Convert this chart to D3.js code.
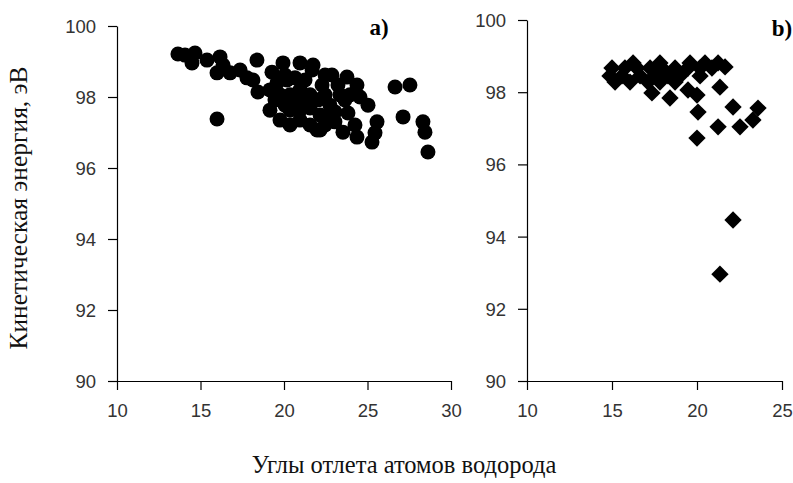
<!DOCTYPE html>
<html>
<head>
<meta charset="utf-8">
<script src="https://cdn.jsdelivr.net/npm/d3@7"></script>
<style>
  body { margin: 0; background: #fff; }
  svg { display: block; }
  .tick text { font-family: "Liberation Sans", Arial, sans-serif; font-size: 18.5px; fill: #333; }
  .domain, .tick line { stroke: #000; stroke-width: 1.2; }
</style>
</head>
<body>
<svg id="chart" width="793" height="483"></svg>
<script>
// Panel a): recoil angle (deg) vs kinetic energy (eV), circles
const angleA = [13.65, 14.07, 14.67, 14.49, 15.39, 16.17, 16.35, 15.99, 16.77, 17.37,
  17.78, 18.38, 18.14, 18.44, 19.94, 20.96, 21.74, 19.58, 20.18, 15.99,
  22.87, 23.77, 24.37, 24.55, 25.03, 23.83, 25.57, 25.45, 25.27, 24.37,
  23.53, 22.16, 26.65, 27.54, 27.13, 28.32, 28.44, 28.62,
  19.16, 19.46, 19.76, 20.06, 20.36, 20.66, 20.96, 21.26, 21.56, 20.36,
  20.96, 21.56, 22.04, 22.46, 22.75, 22.16, 22.65, 23.05, 20.96, 21.56,
  21.98, 22.46, 23.05, 23.35, 23.65, 23.23, 22.28, 21.26, 20.66, 20.06,
  19.28, 19.76, 20.36, 21.68, 22.46, 23.95, 19.16, 24.25];
const energyA = [99.21, 99.18, 99.24, 98.96, 99.04, 99.13, 98.90, 98.68, 98.68, 98.76,
  98.54, 99.04, 98.48, 98.14, 98.96, 98.96, 98.90, 98.39, 98.48, 97.38,
  98.62, 98.56, 98.34, 98.00, 97.77, 97.55, 97.30, 96.99, 96.73, 96.87,
  97.01, 97.07, 98.28, 98.34, 97.44, 97.30, 97.01, 96.45,
  98.20, 97.92, 98.06, 97.77, 98.06, 97.92, 98.20, 97.92, 98.06, 97.63,
  97.63, 97.69, 97.92, 98.06, 97.77, 97.49, 97.49, 97.58, 97.35, 97.21,
  97.07, 97.21, 97.30, 98.06, 97.92, 98.34, 98.34, 98.48, 98.54, 98.62,
  98.70, 97.35, 97.21, 98.76, 98.62, 98.06, 97.63, 97.21];

// Panel b): recoil angle (deg) vs kinetic energy (eV), diamonds
const angleB = [16.24, 17.82, 19.59, 20.47, 21.24,
  15.00, 15.76, 16.47, 17.24, 17.94, 18.71, 19.47, 20.18, 20.88,
  14.88, 15.59, 16.65, 17.53, 18.29, 19.00, 20.18,
  15.18, 16.06, 17.12, 17.82, 18.71,
  21.65, 21.35, 20.00, 18.41, 17.35, 19.47, 20.06, 22.12, 23.59, 23.29,
  21.24, 22.53, 20.00, 22.12, 21.35];
const energyB = [98.81, 98.81, 98.81, 98.81, 98.81,
  98.67, 98.67, 98.67, 98.67, 98.67, 98.67, 98.67, 98.67, 98.67,
  98.45, 98.45, 98.45, 98.45, 98.45, 98.45, 98.45,
  98.28, 98.28, 98.28, 98.28, 98.28,
  98.70, 98.14, 97.92, 97.84, 97.98, 98.06, 97.45, 97.59, 97.56, 97.23,
  97.04, 97.04, 96.73, 94.46, 92.96];

const ticksA = [10, 15, 20, 25, 30];
const ticksB = [10, 15, 20, 25];
const ticksY = [90, 92, 94, 96, 98, 100];

const yTitle = "Кинетическая энергия, эВ";
const xTitle = "Углы отлета атомов водорода";

const svg = d3.select("#chart");

function panel(opts) {
  const x = d3.scaleLinear().domain(opts.xDomain).range([opts.left, opts.right]);
  const y = d3.scaleLinear().domain([90, 100]).range([opts.bottom, opts.top]);

  const g = svg.append("g");
  g.append("g")
    .attr("transform", `translate(0,${opts.bottom})`)
    .call(d3.axisBottom(x).tickValues(opts.xTicks).tickSize(9).tickPadding(14).tickSizeOuter(0));
  const yAxis = g.append("g")
    .attr("transform", `translate(${opts.left},0)`)
    .call(d3.axisLeft(y).tickValues(ticksY).tickSize(9).tickPadding(12).tickSizeOuter(0));
  yAxis.selectAll(".tick text").attr("dy", "0.35em");

  const pts = opts.xs.map((v, i) => [v, opts.ys[i]]);
  if (opts.shape === "circle") {
    g.selectAll("circle.pt").data(pts).join("circle")
      .attr("class", "pt")
      .attr("cx", d => x(d[0])).attr("cy", d => y(d[1]))
      .attr("r", 7.5).attr("fill", "#000");
  } else {
    const sym = d3.symbol().type(d3.symbolSquare).size(150);
    g.selectAll("path.pt").data(pts).join("path")
      .attr("class", "pt")
      .attr("d", sym)
      .attr("transform", d => `translate(${x(d[0])},${y(d[1])}) rotate(45)`)
      .attr("fill", "#000");
  }

  g.append("text")
    .attr("x", opts.labelX).attr("y", opts.labelY)
    .attr("font-family", "'Liberation Serif', 'Times New Roman', serif")
    .attr("font-weight", "bold").attr("font-size", 23)
    .attr("text-anchor", "middle")
    .text(opts.label);
}

panel({ xDomain: [10, 30], left: 117, right: 451, top: 26, bottom: 381,
  xTicks: ticksA, xs: angleA, ys: energyA, shape: "circle",
  label: "a)", labelX: 379, labelY: 35 });
panel({ xDomain: [10, 25], left: 527, right: 782, top: 20, bottom: 381,
  xTicks: ticksB, xs: angleB, ys: energyB, shape: "diamond",
  label: "b)", labelX: 782, labelY: 36 });

svg.append("text")
  .attr("transform", "translate(27,208) rotate(-90)")
  .attr("text-anchor", "middle")
  .attr("font-family", "'Liberation Serif', 'Times New Roman', serif")
  .attr("font-size", 25.5)
  .attr("fill", "#111")
  .text(yTitle);

svg.append("text")
  .attr("x", 404).attr("y", 473)
  .attr("text-anchor", "middle")
  .attr("font-family", "'Liberation Serif', 'Times New Roman', serif")
  .attr("font-size", 24.5)
  .attr("fill", "#111")
  .text(xTitle);
</script>
</body>
</html>
